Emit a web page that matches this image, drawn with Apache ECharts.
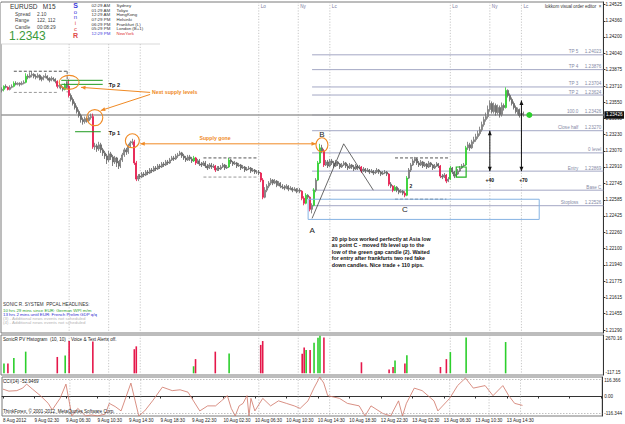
<!DOCTYPE html>
<html><head><meta charset="utf-8">
<script src="https://cdn.jsdelivr.net/npm/echarts@6/dist/echarts.min.js"></script>
<style>html,body{margin:0;padding:0;background:#fff}#c{width:625px;height:424px}</style>
</head><body><div id="c"></div>
<script>
// ===================== DATA =====================
const barCount = 305; // category slots, incl. right chart shift
const barsPerTick = 16;
const xTickLabels = ['8 Aug 2012','9 Aug 02:30','9 Aug 06:30','9 Aug 10:30','9 Aug 14:30','9 Aug 18:30','9 Aug 22:30','10 Aug 02:30','10 Aug 06:30','10 Aug 10:30','10 Aug 14:30','10 Aug 18:30','12 Aug 22:30','13 Aug 02:30','13 Aug 06:30','13 Aug 10:30','13 Aug 14:30'];
const priceTickLabels = ['1.24525','1.24360','1.24200','1.24040','1.23875','1.23710','1.23550','1.23390','1.23230','1.23070','1.22910','1.22745','1.22585','1.22425','1.22260','1.22100','1.21940','1.21775','1.21615','1.21455','1.21290'];
const priceMin = 1.21263, priceMax = 1.24547;
const currentPrice = 1.23426;
const histTickLabels = ['2670.16','-117.15'];
const cciTickLabels = ['116.366','0.00','-116.344'];
const cciLevels = [100, -100];

// EURUSD M15 candles, [open, close, low, high] in pips above 1.2000
const candlePips = [
[367,368,365,370],[368,371,366,372],[371,370,369,373],[370,368,367,371],[368,370,367,372],
[370,371,369,373],[371,374,370,376],[374,373,372,376],[373,374,372,375],[374,373,371,375],
[373,374,372,376],[374,375,373,377],[375,381,374,384],[381,380,378,383],[380,382,379,385],
[382,383,380,386],[383,381,379,384],[381,380,378,383],[380,382,379,384],[382,379,377,383],
[379,378,376,381],[378,380,377,382],[380,381,379,384],[381,379,377,382],[379,377,375,380],
[377,379,376,381],[379,378,376,380],[378,376,374,379],[376,371,369,377],[371,372,369,374],
[372,370,368,373],[370,368,366,371],[368,372,367,374],[372,371,369,376],[371,362,360,378],
[362,358,356,364],[358,354,352,360],[354,350,348,356],[350,346,344,352],[346,342,340,348],
[342,338,335,344],[338,336,333,340],[336,339,334,341],[339,337,335,341],[337,340,336,342],
[340,341,338,344],[341,311,309,344],[311,312,308,315],[312,309,306,314],[309,313,307,316],
[313,308,305,315],[308,305,302,310],[305,302,299,307],[302,298,294,304],[298,304,296,307],
[304,301,298,306],[301,296,292,303],[296,300,294,302],[300,295,291,301],[295,292,289,297],
[292,298,290,300],[298,303,296,305],[303,308,301,310],[308,306,303,310],[306,312,304,314],
[312,315,310,317],[315,316,313,319],[316,295,293,318],[295,279,277,297],[279,282,277,284],
[282,281,279,284],[281,284,280,286],[284,283,281,286],[283,286,282,288],[286,285,283,288],
[285,288,284,290],[288,287,285,290],[287,290,286,292],[290,289,287,292],[289,292,288,294],
[292,291,289,294],[291,294,290,296],[294,293,291,296],[293,296,292,298],[296,295,293,298],
[295,298,294,300],[298,300,297,302],[300,299,297,302],[299,302,298,304],[302,303,300,305],
[303,305,302,307],[305,302,300,306],[302,300,298,304],[300,298,296,302],[298,301,297,303],
[301,299,297,303],[299,297,295,301],[297,300,296,302],[300,295,293,301],[295,297,294,299],
[297,294,292,299],[294,293,291,296],[293,295,292,297],[295,292,290,297],[292,290,288,294],
[290,293,289,295],[293,291,289,295],[291,292,290,294],[292,288,286,293],[288,290,287,292],
[290,289,287,292],[289,291,288,293],[291,293,290,295],[293,290,288,294],[290,291,289,293],
[291,298,290,300],[298,296,294,299],[296,294,292,297],[294,295,293,297],[295,292,290,296],
[292,293,291,295],[293,290,288,294],[290,291,289,293],[291,288,286,292],[288,289,287,291],
[289,290,288,292],[290,287,285,291],[287,288,286,290],[288,286,284,289],[286,286,284,288],
[286,285,283,288],[285,278,276,286],[278,261,259,280],[261,268,260,271],[268,272,266,274],
[272,275,270,277],[275,278,273,280],[278,275,273,279],[275,277,274,279],[277,273,271,278],
[273,275,272,277],[275,272,270,276],[272,271,269,274],[271,270,268,273],[270,272,269,274],
[272,269,267,273],[269,270,268,272],[270,268,266,271],[268,269,267,271],[269,267,265,270],
[267,268,266,270],[268,267,265,270],[267,260,258,268],[260,255,253,262],[255,263,254,265],
[263,261,259,264],[261,249,247,262],[249,253,245,255],[253,268,252,270],[268,278,266,280],
[278,295,277,297],[295,310,294,314],[310,307,305,313],[307,293,291,309],[293,296,292,298],
[296,292,290,298],[292,297,291,299],[297,295,293,299],[295,292,290,297],[292,296,291,298],
[296,294,292,297],[294,291,289,295],[291,293,290,295],[293,295,292,297],[295,292,290,296],
[292,290,288,294],[290,293,289,295],[293,291,289,294],[291,289,287,293],[289,292,288,294],
[292,290,288,293],[290,291,289,293],[291,287,285,292],[287,289,286,291],[289,287,285,290],
[287,288,286,290],[288,286,284,289],[286,287,285,289],[287,285,283,288],[285,286,284,288],
[286,288,285,290],[288,286,284,289],[286,284,282,287],[284,285,283,287],[285,286,284,288],
[286,284,282,287],[284,274,272,285],[274,272,270,276],[272,268,266,273],[268,271,267,273],
[271,268,266,272],[268,266,264,270],[266,267,265,269],[267,265,263,268],[265,263,261,267],
[263,280,262,282],[280,288,279,290],[288,293,286,295],[293,297,292,299],[297,299,295,301],
[299,295,293,300],[295,293,291,297],[293,296,292,298],[296,292,290,297],[292,294,291,296],
[294,291,289,295],[291,295,290,297],[295,293,291,296],[293,290,288,294],[290,292,289,294],
[292,294,291,296],[294,292,290,295],[292,282,280,293],[282,281,279,284],[281,283,280,285],
[283,277,275,284],[277,279,276,281],[279,290,278,292],[290,286,284,291],[286,282,280,287],
[282,284,281,286],[284,287,283,289],[287,290,286,292],[290,292,289,294],[292,293,291,295],
[293,310,292,312],[310,313,308,316],[313,310,307,315],[310,316,309,318],[316,318,314,321],
[318,321,316,324],[321,324,319,327],[324,328,322,331],[328,333,326,336],[333,338,331,341],
[338,341,336,345],[341,348,339,352],[348,354,346,357],[354,346,344,356],[346,352,344,355],
[352,345,342,354],[345,350,343,353],[350,343,340,352],[343,352,341,355],[352,350,347,354],
[350,367,349,370],[367,362,360,368],[362,358,356,364],[358,354,352,360],[354,350,348,356],
[350,346,344,352],[346,348,343,350],[348,342,340,349],[342,344,340,346],[344,343,341,346]
];
const greenCandles = [1,6,12,32,97,115,154,158,160,161,199,205,227,235,255];
const redCandles = [3,28,34,46,67,68,98,108,131,132,152,153,156,163,182,196,198,204,222,225];

// SonicR PV histogram [bar index, value]
const histGreen = [[1,690],[6,1060],[12,1510],[32,1240],[97,490],[115,1380],[154,1630],[158,2130],[160,2470],[161,2620],[199,890],[205,1260],[227,1480],[235,2500],[255,2180]];
const histRed = [[3,690],[28,1140],[34,2250],[46,2220],[67,1680],[68,1880],[98,990],[108,1510],[131,1980],[132,2250],[152,1360],[153,1800],[156,1630],[163,2500],[182,770],[196,270],[198,440],[204,690],[222,440],[225,990]];

// CCI(14) [bar index, value]
const cciPoints = [[0,44],[3,32],[7,35],[10,50],[12,74],[15,44],[19,5],[23,-41],[25,-80],[29,-11],[32,74],[35,-116],[38,-71],[42,-116],[45,-110],[48,-116],[52,-105],[54,-41],[57,-60],[60,-86],[65,80],[69,-116],[72,-86],[76,-26],[81,56],[86,35],[90,40],[94,26],[100,-86],[104,-56],[108,-56],[111,-26],[114,5],[116,-71],[118,-116],[120,-56],[122,-41],[124,5],[125,-116],[126,-11],[128,-86],[132,-11],[136,-56],[140,-26],[144,-41],[148,-56],[151,-71],[155,-26],[158,50],[161,116],[163,80],[165,5],[171,-11],[175,-41],[181,-56],[184,-116],[187,-56],[193,-101],[197,-116],[201,-26],[203,-116],[205,-41],[209,50],[213,35],[219,-26],[221,-86],[227,-11],[231,65],[235,110],[239,50],[245,65],[249,5],[254,65],[257,5],[260,-41],[264,-53]];

// session separators [bar index, label] (9 Aug labels sit under the info panel)
const sessions = [[34,''],[54,''],[70,''],[130,'Lo'],[150,'Ny'],[166,'Lc'],[227,'Lo'],[247,'Ny'],[263,'Lc']];

// fibonacci / order levels [name, price, show price]
const fibStart = 157;
const fibLevels = [['TP 5',1.24023,true],['TP 4',1.23876,true],['TP 3',1.23704,true],['TP 2',1.23624,true],['100.0',1.23426,true],['Close half',1.23270,true],['0 level',1.23050,false],['Entry',1.22869,true],['Base C',1.22680,false],['Stoploss',1.22526,true]];

const paragraph = '20 pip box worked perfectly at Asia low\nas point C - moved fib level up to the\nlow of the green gap candle (2). Waited\nfor entry after frankfurts two red fake\ndown candles. Nice trade + 110 pips.';

// chart objects anchored to [bar index, price]
const ORANGE = '#f08a24', GREEN = '#2ccf2c', RED = '#e5174a', DGREEN = '#1f9a1f';
const annotations = [
  {type:'seg', i0:5.6, i1:32.8, p0:1.2386, color:'#555', dash:[3,2]},
  {type:'seg', i0:5.6, i1:28.3, p0:1.2365, color:'#999', dash:[3,2]},
  {type:'seg', i0:32.8, i1:32.8, p0:1.2386, p1:1.2365, color:'#666', dash:[3,2]},
  {type:'seg', i0:101.5, i1:129.3, p0:1.2300, color:'#555', dash:[3,2]},
  {type:'seg', i0:102, i1:129.3, p0:1.2281, color:'#999', dash:[3,2]},
  {type:'seg', i0:198.5, i1:226.3, p0:1.2300, color:'#555', dash:[3,2]},
  {type:'seg', i0:198.5, i1:225.3, p0:1.2259, color:'#555', dash:[3,2]},
  {type:'seg', i0:30.3, i1:50.5, p0:1.2377, color:DGREEN},
  {type:'seg', i0:30.3, i1:50.5, p0:1.2373, color:DGREEN},
  {type:'seg', i0:36.9, i1:49.5, p0:1.2326, color:DGREEN},
  {type:'rect', i0:155, i1:271.7, p0:1.2259, p1:1.2239, color:'#86b3e3'},
  {type:'poly', pts:[[157,1.2240],[173.2,1.2314],[188.4,1.2268]], color:'#444', w:0.8},
  {type:'ellipse', i:34.3, p:1.2375, rx:10, ry:7, color:ORANGE},
  {type:'ellipse', i:46.5, p:1.2340, rx:8, ry:8, color:ORANGE},
  {type:'ellipse', i:65.7, p:1.2317, rx:7, ry:7, color:ORANGE},
  {type:'ellipse', i:162.1, p:1.2313, rx:6, ry:7, color:ORANGE},
  {type:'seg', i0:74.7, p0:1.2365, i1:39.9, p1:1.2370, color:ORANGE, head:'end'},
  {type:'seg', i0:74.7, p0:1.2363, i1:50, p1:1.2347, color:ORANGE, head:'end'},
  {type:'seg', i0:69.7, p0:1.2314, i1:159.1, p1:1.2314, color:ORANGE, head:'both'},
  {type:'seg', i0:247, p0:1.22869, i1:247, p1:1.23270, color:'#111', head:'both'},
  {type:'seg', i0:263, p0:1.22869, i1:263, p1:1.23569, color:'#111', head:'both'},
  {type:'dot', i:267.2, p:1.23426, r:3, color:GREEN},
  {type:'rect', i0:230.3, i1:234.8, p0:1.2291, p1:1.2281, color:'#22b322', w:1.2},
  {type:'text', i:53.5, p:1.2372, text:'Tp 2', color:'#111', font:'bold 5.6px'},
  {type:'text', i:53.5, p:1.2325, text:'Tp 1', color:'#111', font:'bold 5.6px'},
  {type:'text', i:75.8, p:1.2365, text:'Next supply levels', color:ORANGE, font:'bold 5.2px'},
  {type:'text', i:100, p:1.2320, text:'Supply gone', color:ORANGE, font:'bold 5.2px'},
  {type:'text', i:157, p:1.2228, text:'A', color:'#222', font:'8px', align:'center'},
  {type:'text', i:161.6, p:1.2323, text:'B', color:'#222', font:'8px', align:'center'},
  {type:'text', i:203.5, p:1.2249, text:'C', color:'#222', font:'8px', align:'center'},
  {type:'text', i:206.6, p:1.2272, text:'2', color:'#222', font:'bold 5px', align:'center'},
  {type:'text', i:247, p:1.2278, text:'+40', color:'#111', font:'bold 5px', align:'center'},
  {type:'text', i:263.6, p:1.2278, text:'+70', color:'#111', font:'bold 5px', align:'center'},
  {type:'text', i:167.2, p:1.2223, text:paragraph, color:'#111', font:'bold 5.3px', va:'top', lh:6.5}
];

// ===================== CHART =====================
const FF = '"Liberation Sans", Arial, sans-serif';
const price = p => +(1.2 + p / 10000).toFixed(5);
const cats = Array.from({length: barCount}, (_, i) => String(i));
const candleData = candlePips.map((r, i) => {
  const item = {value: r.map(price)};
  const c = greenCandles.includes(i) ? GREEN : redCandles.includes(i) ? RED : null;
  if (c) item.itemStyle = {color: c, color0: c, borderColor: c, borderColor0: c};
  return item;
});

function head(tip, from, color) {
  const dx = tip[0] - from[0], dy = tip[1] - from[1], L = Math.hypot(dx, dy) || 1;
  const ux = dx / L, uy = dy / L, s = 4.5, w = 2;
  const bx = tip[0] - ux * s, by = tip[1] - uy * s;
  return {type:'polygon', shape:{points:[[tip[0], tip[1]], [bx - uy * w, by + ux * w], [bx + uy * w, by - ux * w]]}, style:{fill: color}};
}
function renderAnno(params, api) {
  const a = annotations[api.value(2)];
  const P = (i, p) => api.coord([i, p]);
  const lw = a.w || 1;
  if (a.type === 'seg') {
    const p0 = P(a.i0, a.p0), p1 = P(a.i1, a.p1 == null ? a.p0 : a.p1);
    const ch = [{type:'line', shape:{x1:p0[0], y1:p0[1], x2:p1[0], y2:p1[1]}, style:{stroke:a.color, lineWidth:lw, lineDash:a.dash || null}}];
    if (a.head === 'end' || a.head === 'both') ch.push(head(p1, p0, a.color));
    if (a.head === 'both') ch.push(head(p0, p1, a.color));
    return {type:'group', children: ch};
  }
  if (a.type === 'rect') {
    const p0 = P(a.i0, a.p0), p1 = P(a.i1, a.p1);
    return {type:'rect', shape:{x:p0[0], y:p0[1], width:p1[0] - p0[0], height:p1[1] - p0[1]}, style:{fill:'none', stroke:a.color, lineWidth:lw}};
  }
  if (a.type === 'poly') {
    return {type:'polyline', shape:{points: a.pts.map(q => P(q[0], q[1]))}, style:{fill:'none', stroke:a.color, lineWidth:lw}};
  }
  if (a.type === 'ellipse') {
    const c = P(a.i, a.p);
    return {type:'ellipse', shape:{cx:c[0], cy:c[1], rx:a.rx, ry:a.ry}, style:{fill:'none', stroke:a.color, lineWidth:1.1}};
  }
  if (a.type === 'dot') {
    const c = P(a.i, a.p);
    return {type:'circle', shape:{cx:c[0], cy:c[1], r:a.r}, style:{fill:a.color}};
  }
  if (a.type === 'text') {
    const c = P(a.i, a.p);
    return {type:'text', x:c[0], y:c[1], style:{text:a.text, fill:a.color, font:a.font + ' ' + FF, align:a.align || 'left', verticalAlign:a.va || 'middle', lineHeight:a.lh || undefined}};
  }
  return null;
}
function renderFib(params, api) {
  const f = fibLevels[api.value(2)];
  const cs = params.coordSys;
  const p0 = api.coord([fibStart, f[1]]);
  const xr = cs.x + cs.width;
  return {type:'group', children:[
    {type:'line', shape:{x1:p0[0], y1:p0[1], x2:xr, y2:p0[1]}, style:{stroke:'#a3a7c4', lineWidth:1}},
    {type:'text', x:xr - 2, y:p0[1] - 0.5, style:{text: f[0] + (f[2] ? '     ' + f[1].toFixed(5) : ''), fill:'#858aa6', font:'4.6px ' + FF, align:'right', verticalAlign:'bottom'}}
  ]};
}
function renderBid(params, api) {
  const cs = params.coordSys;
  const y = api.coord([0, api.value(1)])[1];
  return {type:'group', children:[
    {type:'line', shape:{x1:cs.x, y1:y, x2:cs.x + cs.width, y2:y}, style:{stroke:'#9c9c9c', lineWidth:1.6}},
    {type:'text', x:cs.x + cs.width + 1, y:y, style:{text:api.value(1).toFixed(5), fill:'#fff', backgroundColor:'#111', padding:[1.5,1.5,1,1.5], font:'4.6px ' + FF, align:'left', verticalAlign:'middle'}}
  ]};
}
function sessionRenderer(withLabel) {
  return function (params, api) {
    const cs = params.coordSys;
    const s = sessions[api.value(2)];
    const x = api.coord([s[0], api.value(1)])[0];
    const ch = [{type:'line', shape:{x1:x, y1:cs.y, x2:x, y2:cs.y + cs.height}, style:{stroke:'#b9b9b9', lineWidth:0.8, lineDash:[1.2, 1.6]}}];
    if (withLabel && s[1]) ch.push({type:'text', x:x + 2, y:cs.y + 2, style:{text:s[1], fill:'#7878a0', font:'4.6px ' + FF, align:'left', verticalAlign:'top'}});
    return {type:'group', children: ch};
  };
}
const gridBase = {left:1, right:21, show:true, borderColor:'#7a7a7a', borderWidth:1, backgroundColor:'#fff'};
const xAxisBase = {type:'category', data:cats, boundaryGap:true, axisLine:{show:false}, axisTick:{show:false}, axisLabel:{show:false}, splitLine:{show:false}};
const yLabel = {fontSize:4.6, color:'#222', fontFamily:FF, margin:2};
// edge labels of the indicator panels sit just inside the panel, as in MT4
const edgeRich = {t:{padding:[6,0,0,0], fontSize:4.6, fontFamily:FF, color:'#222'}, b:{padding:[0,0,6,0], fontSize:4.6, fontFamily:FF, color:'#222'}, m:{fontSize:4.6, fontFamily:FF, color:'#222'}};
function edgeFormatter(labels) {
  const vals = labels.map(Number), mx = Math.max(...vals), mn = Math.min(...vals);
  return v => {
    const t = labels[vals.indexOf(v)] || v.toFixed(2);
    return v === mx ? '{t|' + t + '}' : v === mn ? '{b|' + t + '}' : '{m|' + t + '}';
  };
}

const option = {
  animation:false,
  backgroundColor:'#fff',
  grid:[
    Object.assign({top:2, height:331}, gridBase),
    Object.assign({top:335, height:40}, gridBase),
    Object.assign({top:377, height:39}, gridBase)
  ],
  xAxis:[
    Object.assign({gridIndex:0}, xAxisBase),
    Object.assign({gridIndex:1}, xAxisBase),
    Object.assign({}, xAxisBase, {gridIndex:2,
      axisLine:{show:true, lineStyle:{color:'#333'}},
      axisTick:{show:true, interval:barsPerTick - 1, alignWithLabel:true, length:2, lineStyle:{color:'#333'}},
      axisLabel:{show:true, interval:barsPerTick - 1, align:'left', fontSize:4.6, color:'#222', fontFamily:FF, margin:2,
        formatter:(v, idx) => xTickLabels[idx / barsPerTick] || ''}})
  ],
  yAxis:[
    {type:'value', gridIndex:0, position:'right', min:priceMin, max:priceMax, splitLine:{show:false},
      axisLine:{show:true, lineStyle:{color:'#333'}},
      axisTick:{show:true, length:2, customValues:priceTickLabels.map(Number), lineStyle:{color:'#333'}},
      axisLabel:Object.assign({customValues:priceTickLabels.map(Number), formatter:v => v.toFixed(5)}, yLabel)},
    {type:'value', gridIndex:1, position:'right', min:Number(histTickLabels[1]), max:Number(histTickLabels[0]), splitLine:{show:false},
      axisLine:{show:true, lineStyle:{color:'#333'}},
      axisTick:{show:false},
      axisLabel:Object.assign({customValues:histTickLabels.map(Number), formatter:edgeFormatter(histTickLabels), rich:edgeRich}, yLabel)},
    {type:'value', gridIndex:2, position:'right', min:Number(cciTickLabels[2]), max:Number(cciTickLabels[0]), splitLine:{show:false},
      axisLine:{show:true, lineStyle:{color:'#333'}},
      axisTick:{show:false},
      axisLabel:Object.assign({customValues:cciTickLabels.map(Number), formatter:edgeFormatter(cciTickLabels), rich:edgeRich}, yLabel)}
  ],
  series:[
    {type:'custom', name:'sessions', xAxisIndex:0, yAxisIndex:0, renderItem:sessionRenderer(true), data:sessions.map((s, k) => [s[0], currentPrice, k]), silent:true, z:1},
    {type:'custom', name:'sessions2', xAxisIndex:1, yAxisIndex:1, renderItem:sessionRenderer(false), data:sessions.map((s, k) => [s[0], 0, k]), silent:true, z:1},
    {type:'custom', name:'sessions3', xAxisIndex:2, yAxisIndex:2, renderItem:sessionRenderer(false), data:sessions.map((s, k) => [s[0], 0, k]), silent:true, z:1},
    {type:'custom', name:'fib', xAxisIndex:0, yAxisIndex:0, renderItem:renderFib, data:fibLevels.map((f, k) => [fibStart, f[1], k]), silent:true, z:2},
    {type:'custom', name:'bid', xAxisIndex:0, yAxisIndex:0, renderItem:renderBid, data:[[0, currentPrice]], silent:true, z:2},
    {type:'candlestick', name:'EURUSD', xAxisIndex:0, yAxisIndex:0, data:candleData, barWidth:1.5, z:3,
      itemStyle:{color:'#dcdcdc', color0:'#8c8c8c', borderColor:'#6e6e6e', borderColor0:'#5e5e5e', borderWidth:0.8}},
    {type:'custom', name:'objects', xAxisIndex:0, yAxisIndex:0, renderItem:renderAnno,
      data:annotations.map((a, k) => [a.i != null ? a.i : (a.i0 != null ? a.i0 : a.pts[0][0]), a.p != null ? a.p : (a.p0 != null ? a.p0 : a.pts[0][1]), k]), silent:true, z:5},
    {type:'bar', name:'PV up', xAxisIndex:1, yAxisIndex:1, data:histGreen, barWidth:1.6, barGap:'-100%', itemStyle:{color:GREEN}, z:3},
    {type:'bar', name:'PV down', xAxisIndex:1, yAxisIndex:1, data:histRed, barWidth:1.6, barGap:'-100%', itemStyle:{color:RED}, z:3},
    {type:'line', name:'CCI', xAxisIndex:2, yAxisIndex:2, data:cciPoints, symbol:'none', lineStyle:{color:'#cf7464', width:0.8}, z:3,
      markLine:{silent:true, symbol:'none', label:{show:false}, data:cciLevels.map(v => ({yAxis:v})), lineStyle:{color:'#b0b0b0', width:0.8, type:[1.5,1.5]}}}
  ],
  graphic:[
    {type:'rect', z:100, shape:{x:1, y:3, width:205, height:41}, style:{fill:'#fff'}},
    {type:'line', z:100, shape:{x1:1, y1:44, x2:160, y2:44}, style:{stroke:'#cfcfcf', lineWidth:0.8}},
    {type:'text', z:101, x:10, y:6.5, style:{text:'EURUSD   M15', font:'6.5px ' + FF, fill:'#333', verticalAlign:'middle'}},
    {type:'text', z:101, x:15, y:14, style:{text:'Spread', font:'4.8px ' + FF, fill:'#444', verticalAlign:'middle'}},
    {type:'text', z:101, x:37, y:14, style:{text:'2.10', font:'4.8px ' + FF, fill:'#444', verticalAlign:'middle'}},
    {type:'text', z:101, x:15, y:20.5, style:{text:'Range', font:'4.8px ' + FF, fill:'#444', verticalAlign:'middle'}},
    {type:'text', z:101, x:37, y:20.5, style:{text:'122, 112', font:'4.8px ' + FF, fill:'#444', verticalAlign:'middle'}},
    {type:'text', z:101, x:15, y:27, style:{text:'Candle', font:'4.8px ' + FF, fill:'#444', verticalAlign:'middle'}},
    {type:'text', z:101, x:37, y:27, style:{text:'00:08:29', font:'4.8px ' + FF, fill:'#444', verticalAlign:'middle'}},
    {type:'text', z:101, x:9, y:35.5, style:{text:'1.2343', font:'12px ' + FF, fill:'#3a9a3a', verticalAlign:'middle'}},
    {type:'text', z:101, x:75.5, y:5.5, style:{text:'S', font:'bold 7px ' + FF, fill:'#3b3bdc', align:'center', verticalAlign:'middle'}},
    {type:'text', z:101, x:75.5, y:11.5, style:{text:'o', font:'6px ' + FF, fill:'#3b3bdc', align:'center', verticalAlign:'middle'}},
    {type:'text', z:101, x:75.5, y:17, style:{text:'n', font:'6px ' + FF, fill:'#3b3bdc', align:'center', verticalAlign:'middle'}},
    {type:'text', z:101, x:75.5, y:23, style:{text:'i', font:'6px ' + FF, fill:'#e04848', align:'center', verticalAlign:'middle'}},
    {type:'text', z:101, x:75.5, y:28.5, style:{text:'c', font:'6px ' + FF, fill:'#e04848', align:'center', verticalAlign:'middle'}},
    {type:'text', z:101, x:75.5, y:35.5, style:{text:'R', font:'bold 7px ' + FF, fill:'#e04848', align:'center', verticalAlign:'middle'}},
    {type:'text', z:101, x:91.5, y:3, style:{text:'02:29 AM\n01:29 AM\n12:29 AM\n07:29 PM\n06:29 PM\n05:29 PM', font:'4.4px ' + FF, fill:'#333', lineHeight:4.7, verticalAlign:'top'}},
    {type:'text', z:101, x:91.5, y:31.2, style:{text:'12:29 PM', font:'4.4px ' + FF, fill:'#3b3bdc', verticalAlign:'top'}},
    {type:'text', z:101, x:116.5, y:3, style:{text:'Sydney\nTokyo\nHongKong\nHelsinki\nFrankfurt (L)\nLondon (B+1)', font:'4.4px ' + FF, fill:'#333', lineHeight:4.7, verticalAlign:'top'}},
    {type:'text', z:101, x:116.5, y:31.2, style:{text:'NewYork', font:'4.4px ' + FF, fill:'#e03030', verticalAlign:'top'}},
    {type:'text', z:101, x:545, y:6, style:{text:'lokkom visual order editor  ×', font:'4.5px ' + FF, fill:'#333', verticalAlign:'middle'}},
    {type:'text', z:101, x:3, y:304, style:{text:'SONIC R. SYSTEM  PPCAL HEADLINES:', font:'4.6px ' + FF, fill:'#333', verticalAlign:'middle'}},
    {type:'text', z:101, x:3, y:310, style:{text:'10 hrs 29 mins since EUR: German WPI m/m', font:'4.4px ' + FF, fill:'#2a9f2a', verticalAlign:'middle'}},
    {type:'text', z:101, x:3, y:314.3, style:{text:'13 hrs 2 mins until EUR: French Prelim GDP q/q', font:'4.4px ' + FF, fill:'#3030d0', verticalAlign:'middle'}},
    {type:'text', z:101, x:3, y:318.4, style:{text:'(3) - Additional news events not scheduled', font:'4.4px ' + FF, fill:'#b4b4b4', verticalAlign:'middle'}},
    {type:'text', z:101, x:3, y:322.7, style:{text:'(4) - Additional news events not scheduled', font:'4.4px ' + FF, fill:'#b4b4b4', verticalAlign:'middle'}},
    {type:'text', z:101, x:3, y:339.5, style:{text:'SonicR PV Histogram  (10, 10)  , Voice & Text Alerts off.', font:'4.6px ' + FF, fill:'#222', verticalAlign:'middle'}},
    {type:'text', z:101, x:3, y:381, style:{text:'CCI(14) -52.9469', font:'4.6px ' + FF, fill:'#222', verticalAlign:'middle'}},
    {type:'text', z:101, x:3, y:411.5, style:{text:'ThinkForex, \u00a9 2001-2012, MetaQuotes Software Corp.', font:'4.6px ' + FF, fill:'#222', verticalAlign:'middle'}}
  ]
};
const chart = echarts.init(document.getElementById('c'), null, {renderer:'svg', width:625, height:424});
chart.setOption(option);
</script></body></html>
